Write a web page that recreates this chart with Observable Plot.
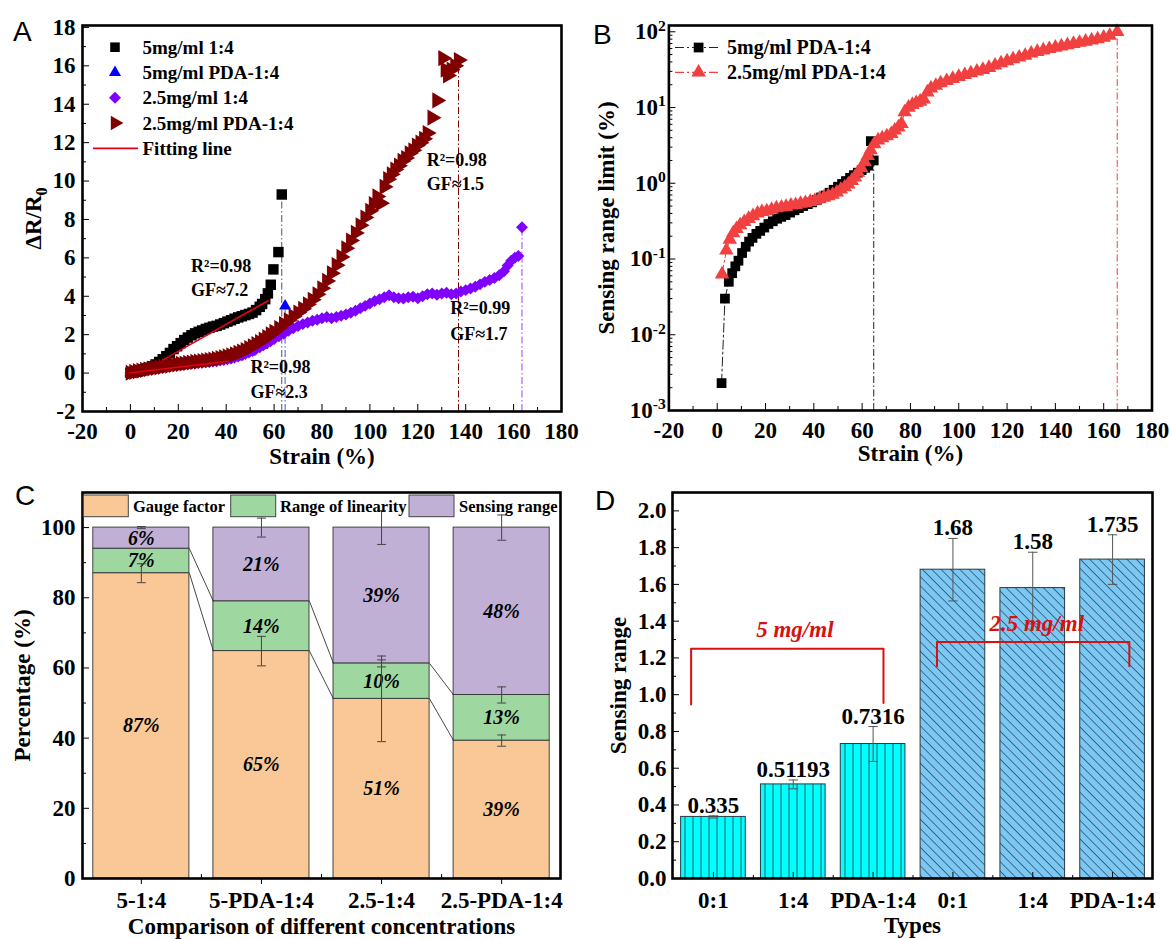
<!DOCTYPE html>
<html>
<head>
<meta charset="utf-8">
<script src="https://cdn.jsdelivr.net/npm/d3@7"></script>
<script src="https://cdn.jsdelivr.net/npm/@observablehq/plot@0.6"></script>
<style>
  html, body { margin: 0; padding: 0; background: #fff; }
  #root { position: relative; width: 1170px; height: 939px; overflow: hidden; background: #fff; }
  .panel { position: absolute; }
  .panel svg { display: block; max-width: none; }
  .letter { position: absolute; font-family: "Liberation Sans", Arial, sans-serif; font-size: 28px; line-height: 1; color: #000; }
</style>
</head>
<body>
<svg width="0" height="0" style="position:absolute">
  <defs>
    <pattern id="hatchVertical" patternUnits="userSpaceOnUse" width="8" height="10">
      <line x1="4" y1="0" x2="4" y2="10" stroke="#1d4f5a" stroke-width="0.9"/>
    </pattern>
    <pattern id="hatchDiagonal" patternUnits="userSpaceOnUse" width="6.6" height="10" patternTransform="rotate(-45)">
      <line x1="3.3" y1="-1" x2="3.3" y2="11" stroke="#2e4f66" stroke-width="0.8"/>
    </pattern>
  </defs>
</svg>
<div id="root">
  <div class="panel" id="panelA" style="left:0px;top:0px;width:585px;height:470px"></div>
  <div class="panel" id="panelB" style="left:585px;top:0px;width:585px;height:470px"></div>
  <div class="panel" id="panelC" style="left:0px;top:470px;width:585px;height:469px"></div>
  <div class="panel" id="panelD" style="left:585px;top:470px;width:585px;height:469px"></div>
  <div class="letter" style="left:13px;top:18px">A</div>
  <div class="letter" style="left:593px;top:21px">B</div>
  <div class="letter" style="left:15px;top:482px">C</div>
  <div class="letter" style="left:595px;top:487px">D</div>
</div>
<script>
// ======================= DATA =======================
// ---- Panel A: ΔR/R0 vs strain ----
const seriesNamesA = ["5mg/ml 1:4", "5mg/ml PDA-1:4", "2.5mg/ml 1:4", "2.5mg/ml PDA-1:4"];
const a5_14 = [[0,0.02],[1.5,0.05],[3,0.09],[4.5,0.14],[6,0.2],[7.5,0.27],[9,0.35],[10.5,0.45],[12,0.58],[13.5,0.72],[15,0.88],[16.5,1.05],[18,1.25],[19.5,1.4],[21,1.56],[22.5,1.72],[24,1.85],[25.5,1.97],[27,2.07],[28.5,2.15],[30,2.22],[31.5,2.3],[33,2.36],[34.5,2.42],[36,2.46],[37.5,2.53],[39,2.6],[40.5,2.68],[42,2.75],[43.5,2.83],[45,2.9],[46.5,2.96],[48,3.02],[49.5,3.08],[51,3.15],[52.5,3.28],[54,3.45],[55,3.6],[56.3,3.85],[57.4,4.15],[58.6,4.6],[59.7,5.4],[61.8,6.3],[63.2,9.3]];
const a5_PDA = [[0,0.02],[5,0.12],[10,0.22],[15,0.3],[20,0.38],[25,0.45],[30,0.52],[35,0.6],[40,0.7],[45,0.85],[50,1.1],[55,1.45],[60,1.85],[63,2.2],[64.6,3.5]];
const a25_14 = [[0,0],[1.5,0.04],[3,0.08],[4.5,0.12],[6,0.15],[7.5,0.18],[9,0.2],[10.5,0.24],[12,0.27],[13.5,0.3],[15,0.33],[16.5,0.36],[18,0.38],[19.5,0.41],[21,0.43],[22.5,0.46],[24,0.48],[25.5,0.5],[27,0.52],[28.5,0.54],[30,0.55],[31.5,0.57],[33,0.58],[34.5,0.6],[36,0.62],[37.5,0.65],[39,0.68],[40.5,0.72],[42,0.76],[43.5,0.81],[45,0.87],[46.5,0.93],[48,1.0],[49.5,1.07],[51,1.15],[52.5,1.25],[54,1.35],[55.5,1.45],[57,1.55],[58.5,1.66],[60,1.78],[62,1.92],[64,2.05],[66,2.2],[68,2.33],[70,2.45],[72,2.55],[74,2.63],[76,2.72],[78,2.78],[80,2.86],[82,2.92],[84,2.85],[86,2.92],[88,2.98],[90,3.05],[92,3.14],[94,3.25],[96,3.38],[98,3.5],[100,3.62],[102,3.75],[104,3.85],[106,3.95],[108,4.05],[110,3.95],[112,3.9],[114,3.88],[116,3.95],[118,3.98],[120,3.9],[122,4.0],[124,4.1],[126,4.15],[128,4.08],[130,4.15],[132,4.18],[134,4.1],[136,4.15],[138,4.25],[140,4.32],[142,4.4],[144,4.5],[146,4.62],[148,4.75],[150,4.85],[152,4.95],[154,5.1],[156,5.3],[157.5,5.6],[159,5.85],[160.5,6.0],[162,6.1],[163.5,7.6]];
const a25_PDA = [[0,0.02],[1.5,0.06],[3,0.1],[4.5,0.13],[6,0.17],[7.5,0.2],[9,0.24],[10.5,0.27],[12,0.3],[13.5,0.33],[15,0.36],[16.5,0.39],[18,0.42],[19.5,0.45],[21,0.48],[22.5,0.5],[24,0.53],[25.5,0.55],[27,0.58],[28.5,0.6],[30,0.63],[31.5,0.65],[33,0.68],[34.5,0.71],[36,0.74],[37.5,0.78],[39,0.82],[40.5,0.87],[42,0.92],[43.5,0.98],[45,1.05],[46.5,1.12],[48,1.2],[49.5,1.3],[51,1.4],[52.5,1.51],[54,1.62],[55.5,1.75],[57,1.88],[58.5,2.02],[60,2.15],[62,2.35],[64,2.55],[66,2.75],[68,2.95],[70,3.15],[72,3.35],[74,3.58],[76,3.82],[78,4.1],[80,4.42],[82,4.8],[84,5.2],[86,5.62],[88,6.05],[90,6.5],[92,6.9],[94,7.3],[96,7.7],[98,8.1],[100,8.45],[101.5,8.8],[103,9.2],[104.5,8.85],[106,9.7],[107.5,10.1],[109,10.35],[110.5,10.6],[112,10.8],[113.5,11.05],[115,11.2],[116.5,11.45],[118,11.6],[119.5,11.85],[121,12.0],[122.5,12.2],[124,12.5],[126,13.3],[128,14.2],[130.5,16.4],[131.5,15.8],[132.5,15.5],[134,15.8],[135.5,16.0],[137,16.3]];
const fitLinesA = [[[13.6,0.69],[57.5,3.77]], [[0,0.02],[41,0.62]]];
const annotationsA = [
  {x: 25.3, y: 5.58, t: "R²=0.98"}, {x: 25.3, y: 4.29, t: "GF≈7.2"},
  {x: 50.1, y: 0.31, t: "R²=0.98"}, {x: 50.1, y: -1.02, t: "GF≈2.3"},
  {x: 123.7, y: 11.1, t: "R²=0.98"}, {x: 123.7, y: 9.81, t: "GF≈1.5"},
  {x: 133.5, y: 3.39, t: "R²=0.99"}, {x: 133.5, y: 2.04, t: "GF≈1.7"}
];
const xTicksA = [-20, 0, 20, 40, 60, 80, 100, 120, 140, 160, 180];
const yTicksA = [-2, 0, 2, 4, 6, 8, 10, 12, 14, 16, 18];

// ---- Panel B: sensing range limit (log) ----
const seriesNamesB = ["5mg/ml PDA-1:4", "2.5mg/ml PDA-1:4"];
const b5_PDA = [[1.8,0.0023],[3.2,0.03],[4.8,0.05],[6.2,0.065],[7.5,0.08],[8.8,0.095],[10.3,0.12],[11.8,0.145],[13.2,0.17],[14.6,0.19],[16.2,0.215],[17.8,0.235],[19.5,0.26],[21.2,0.29],[23,0.315],[24.8,0.34],[26.5,0.36],[28.3,0.38],[30.2,0.41],[32,0.44],[33.8,0.47],[35.6,0.5],[37.5,0.53],[39.3,0.56],[41.2,0.6],[43,0.65],[44.8,0.69],[46.5,0.75],[48.2,0.82],[50,0.9],[51.7,0.98],[53.3,1.07],[55,1.18],[56.6,1.28],[58.2,1.38],[59.8,1.49],[61.3,1.6],[62.6,1.71],[63.6,3.6],[64.8,2.0]];
const b25_PDA = [[2.0,0.063],[3.8,0.13],[5.2,0.18],[6.6,0.22],[8,0.25],[9.5,0.28],[11.2,0.31],[13,0.34],[14.8,0.37],[16.7,0.4],[18.5,0.42],[20.5,0.43],[22.5,0.45],[24.5,0.47],[26.6,0.48],[28.5,0.49],[30.5,0.51],[32.5,0.52],[34.5,0.54],[36.5,0.55],[38.5,0.57],[40.4,0.59],[42.3,0.62],[44.2,0.65],[46,0.68],[47.8,0.71],[49.5,0.76],[51.2,0.83],[52.8,0.89],[54.3,0.97],[55.7,1.08],[57,1.2],[58.3,1.38],[59.6,1.6],[61.1,1.9],[62.3,2.3],[63.5,2.75],[65,3.3],[66.6,3.7],[68.3,3.95],[70.2,4.2],[72.1,4.5],[73.5,5.0],[75,5.5],[76.3,6.1],[77.6,8.7],[79.2,10.0],[80.8,10.9],[82.4,11.5],[84,12.0],[85.5,12.8],[87,15.9],[88.5,18],[90.5,19.5],[92.5,21],[95,22.5],[97.5,24],[100,25.5],[102.5,27],[105,28.5],[107.5,30],[110,31.5],[112.5,33.5],[115,36],[117.5,38.5],[120,41],[122.5,43.5],[125,46],[127.5,48.5],[130,52],[132.5,54.5],[135,57],[137.5,59.5],[140,62],[142.5,64.5],[145,67],[147.5,69.5],[150,72],[152.5,74.5],[155,77],[157.5,80],[160,84],[162.5,89],[165.6,100]];
const xTicksB = [-20, 0, 20, 40, 60, 80, 100, 120, 140, 160, 180];
const decadesB = [0.001, 0.01, 0.1, 1, 10, 100];

// ---- Panel C: stacked percentages ----
const categoriesC = ["5-1:4", "5-PDA-1:4", "2.5-1:4", "2.5-PDA-1:4"];
const componentsC = ["Gauge factor", "Range of linearity", "Sensing range"];
const gaugeC = [87, 64.8, 51.2, 39.3];
const linearityC = [7, 14.2, 10.1, 13.0];
const sensingC = [6, 21.0, 38.7, 47.7];
const gaugeErrC = [2.7, 4.2, 12.2, 1.6];
const linearityErrC = [0, 0, 1.0, 2.3];
const sensingErrC = [0.3, 2.7, 4.8, 3.6];
const gaugeLabelsC = ["87%", "65%", "51%", "39%"];
const linearityLabelsC = ["7%", "14%", "10%", "13%"];
const sensingLabelsC = ["6%", "21%", "39%", "48%"];
const yTicksC = [0, 20, 40, 60, 80, 100];

// ---- Panel D: sensing range bars ----
const typesD = ["0:1", "1:4", "PDA-1:4", "0:1", "1:4", "PDA-1:4"];
const groupsD = ["5 mg/ml", "5 mg/ml", "5 mg/ml", "2.5 mg/ml", "2.5 mg/ml", "2.5 mg/ml"];
const valuesD = [0.335, 0.51193, 0.7316, 1.68, 1.58, 1.735];
const errorsD = [0.006, 0.024, 0.095, 0.17, 0.195, 0.135];
const bracketsD = [
  {label: "5 mg/ml", x1: -0.28, x2: 2.13, top: 1.25, end1: 0.946, end2: 0.955, tx: 1.02, ty: 1.353},
  {label: "2.5 mg/ml", x1: 2.8, x2: 5.21, top: 1.286, end1: 1.155, end2: 1.155, tx: 4.05, ty: 1.384}
];
const yTicksD = [0, 0.2, 0.4, 0.6, 0.8, 1.0, 1.2, 1.4, 1.6, 1.8, 2.0];

// ======================= STYLES =======================
const serif = "'Liberation Serif', 'Times New Roman', serif";
const baseStyle = {fontFamily: serif, fontSize: "23px", fontWeight: "bold", overflow: "visible", background: "transparent"};
const dashDot = "7,2.5,1.5,2.5";
const symbolTriangleRight = {
  draw(ctx, size) {
    const s = Math.sqrt(size * 4 / Math.sqrt(3)), h = s * Math.sqrt(3) / 2;
    ctx.moveTo(2 * h / 3, 0); ctx.lineTo(-h / 3, -s / 2); ctx.lineTo(-h / 3, s / 2); ctx.closePath();
  }
};
const d3Symbols = {square: d3.symbolSquare, triangle: d3.symbolTriangle, diamond2: d3.symbolDiamond2};
const symbolOf = s => typeof s === "string" ? d3Symbols[s] : s;
const mid = arr => arr.slice(0, -1).map((v, i) => (v + arr[i + 1]) / 2);
const yTitle = (t, dx) => Plot.text([t], {frameAnchor: "left", dx, rotate: -90, textAnchor: "middle", lineAnchor: "middle"});
const xTitle = (t, dy) => Plot.text([t], {frameAnchor: "bottom", dy, textAnchor: "middle", lineAnchor: "middle"});

// ======================= PANEL A =======================
const seriesA = [
  {name: seriesNamesA[0], data: a5_14, symbol: "square", r: 5.9, color: "#000000", guide: "#555555"},
  {name: seriesNamesA[1], data: a5_PDA, symbol: "triangle", r: 4.5, color: "#0000ff", guide: "#3a52ff"},
  {name: seriesNamesA[2], data: a25_14, symbol: "diamond2", r: 5.4, color: "#8000ff", guide: "#9a40ff"},
  {name: seriesNamesA[3], data: a25_PDA, symbol: symbolTriangleRight, r: 6.0, color: "#800000", guide: "#800000"}
];
const yMinA = yTicksA[0];
const plotA = Plot.plot({
  width: 585, height: 470, marginLeft: 82, marginRight: 24, marginTop: 25, marginBottom: 59,
  style: baseStyle,
  x: {domain: [xTicksA[0], xTicksA[xTicksA.length - 1]], label: null},
  y: {domain: [yMinA, 18.1], label: null},
  marks: [
    ...seriesA.map(s => {
      const last = s.data[s.data.length - 1];
      return Plot.ruleX([last], {x: d => d[0], y1: yMinA, y2: d => d[1], stroke: s.guide, strokeWidth: 1, strokeDasharray: dashDot});
    }),
    ...seriesA.map(s => Plot.dot(s.data, {x: d => d[0], y: d => d[1], symbol: s.symbol, r: s.r, fill: s.color, stroke: "none"})),
    ...fitLinesA.map(seg => Plot.line(seg, {x: d => d[0], y: d => d[1], stroke: "#e3001b", strokeWidth: 1.6})),
    Plot.text(annotationsA, {x: "x", y: "y", text: "t", textAnchor: "start", fontSize: 18, lineAnchor: "middle"}),
    Plot.axisX({ticks: xTicksA, anchor: "bottom", tickSize: -7, tickPadding: 18.3, tickFormat: d => String(d), label: null}),
    Plot.axisX({ticks: mid(xTicksA), anchor: "bottom", tickSize: -4, tickFormat: () => "", label: null}),
    Plot.axisY({ticks: yTicksA, anchor: "left", tickSize: -7, tickPadding: 14, tickFormat: d => String(d), label: null}),
    Plot.axisY({ticks: mid(yTicksA), anchor: "left", tickSize: -4, tickFormat: () => "", label: null}),
    Plot.frame({stroke: "#000", strokeWidth: 2.6}),
    xTitle("Strain (%)", 45),
    yTitle("ΔR/R0", -49)
  ]
});
document.getElementById("panelA").append(plotA);

// ======================= PANEL B =======================
const seriesB = [
  {name: seriesNamesB[0], data: b5_PDA, symbol: "square", r: 5.5, color: "#000000", line: "#222222"},
  {name: seriesNamesB[1], data: b25_PDA, symbol: "triangle", r: 5.4, color: "#f04040", line: "#f04040"}
];
const yDomainB = [decadesB[0], 121];
const minorB = decadesB.flatMap(d => [2, 3, 4, 5, 6, 7, 8, 9].map(m => m * d)).filter(v => v < yDomainB[1]);
const plotB = Plot.plot({
  width: 585, height: 470, marginLeft: 83.4, marginRight: 18.5, marginTop: 25, marginBottom: 60,
  style: baseStyle,
  x: {domain: [xTicksB[0], xTicksB[xTicksB.length - 1]], label: null},
  y: {type: "log", domain: yDomainB, label: null},
  marks: [
    ...seriesB.map(s => {
      const last = s.data[s.data.length - 1];
      return Plot.ruleX([last], {x: d => d[0], y1: yDomainB[0], y2: d => d[1], stroke: s.line, strokeWidth: 1, strokeDasharray: dashDot});
    }),
    ...seriesB.map(s => Plot.line(s.data, {x: d => d[0], y: d => d[1], stroke: s.line, strokeWidth: 1, strokeDasharray: "9,3,2,3"})),
    ...seriesB.map(s => Plot.dot(s.data, {x: d => d[0], y: d => d[1], symbol: s.symbol, r: s.r, fill: s.color, stroke: "none"})),
    Plot.axisX({ticks: xTicksB, anchor: "bottom", tickSize: -7, tickPadding: 18.3, tickFormat: d => String(d), label: null}),
    Plot.axisX({ticks: mid(xTicksB), anchor: "bottom", tickSize: -4, tickFormat: () => "", label: null}),
    Plot.axisY({ticks: decadesB, anchor: "left", tickSize: -7, tickPadding: 10, tickFormat: d => "10^" + Math.round(Math.log10(d)), label: null}),
    Plot.axisY({ticks: minorB, anchor: "left", tickSize: -4, tickFormat: () => "", label: null}),
    Plot.frame({stroke: "#000", strokeWidth: 2.6}),
    xTitle("Strain (%)", 43),
    yTitle("Sensing range limit (%)", -62)
  ]
});
document.getElementById("panelB").append(plotB);

// ======================= PANEL C =======================
const colorsC = ["#F9C896", "#9ED8A0", "#C0B0D6"];
const valuesC = [gaugeC, linearityC, sensingC];
const errsC = [gaugeErrC, linearityErrC, sensingErrC];
const labelsC = [gaugeLabelsC, linearityLabelsC, sensingLabelsC];
const halfC = 0.4;
const segC = [];
categoriesC.forEach((c, i) => {
  let cum = 0;
  valuesC.forEach((vals, k) => {
    segC.push({i, k, comp: componentsC[k], y1: cum, y2: cum + vals[i], err: errsC[k][i], label: labelsC[k][i]});
    cum += vals[i];
  });
});
const connectorsC = [];
[0, 1].forEach(k => {
  for (let i = 0; i < categoriesC.length - 1; i++) {
    const a = segC.find(s => s.i === i && s.k === k), b = segC.find(s => s.i === i + 1 && s.k === k);
    connectorsC.push({x1: i + halfC, y1: a.y2, x2: i + 1 - halfC, y2: b.y2});
  }
});
const errRowsC = segC.filter(s => s.err > 0);
const capC = 0.037;
const xTicksC = categoriesC.map((c, i) => i);
const plotC = Plot.plot({
  width: 585, height: 469, marginLeft: 82, marginRight: 25, marginTop: 22, marginBottom: 61,
  style: baseStyle,
  x: {domain: [-0.49, categoriesC.length - 0.51], label: null},
  y: {domain: [0, 110], label: null},
  color: {domain: componentsC, range: colorsC},
  marks: [
    Plot.rect(segC, {x1: d => d.i - halfC, x2: d => d.i + halfC, y1: "y1", y2: "y2", fill: "comp", stroke: "#333", strokeWidth: 0.9}),
    Plot.link(connectorsC, {x1: "x1", y1: "y1", x2: "x2", y2: "y2", stroke: "#333", strokeWidth: 0.9}),
    Plot.text(segC, {x: "i", y: d => (d.y1 + d.y2) / 2, text: "label", fontStyle: "italic", fontSize: 20, lineAnchor: "middle"}),
    Plot.ruleX(errRowsC, {x: "i", y1: d => d.y2 - d.err, y2: d => d.y2 + d.err, stroke: "#444", strokeWidth: 1}),
    Plot.link(errRowsC, {x1: d => d.i - capC, x2: d => d.i + capC, y1: d => d.y2 + d.err, y2: d => d.y2 + d.err, stroke: "#444", strokeWidth: 1}),
    Plot.link(errRowsC, {x1: d => d.i - capC, x2: d => d.i + capC, y1: d => d.y2 - d.err, y2: d => d.y2 - d.err, stroke: "#444", strokeWidth: 1}),
    Plot.axisX({ticks: xTicksC, anchor: "bottom", tickSize: 6, tickPadding: 7, tickFormat: i => categoriesC[i], label: null}),
    Plot.axisX({ticks: mid(xTicksC), anchor: "bottom", tickSize: -4, tickFormat: () => "", label: null}),
    Plot.axisY({ticks: yTicksC, anchor: "left", tickSize: -7, tickPadding: 14, tickFormat: d => String(d), label: null}),
    Plot.axisY({ticks: mid(yTicksC), anchor: "left", tickSize: -4, tickFormat: () => "", label: null}),
    Plot.frame({stroke: "#000", strokeWidth: 2.6}),
    xTitle("Comparison of different concentrations", 48),
    yTitle("Percentage (%)", -60)
  ]
});
document.getElementById("panelC").append(plotC);

// ======================= PANEL D =======================
const fillsD = {"5 mg/ml": "#00FFFF", "2.5 mg/ml": "#7CC8F4"};
const hatchD = {"5 mg/ml": "url(#hatchVertical)", "2.5 mg/ml": "url(#hatchDiagonal)"};
const rowsD = valuesD.map((v, i) => ({i, v, e: errorsD[i], type: typesD[i], group: groupsD[i]}));
const halfD = 0.405, capD = 0.059;
const xTicksD = typesD.map((t, i) => i);
const bracketPts = bracketsD.flatMap(b => [
  {g: b.label, x: b.x1, y: b.end1}, {g: b.label, x: b.x1, y: b.top},
  {g: b.label, x: b.x2, y: b.top}, {g: b.label, x: b.x2, y: b.end2}
]);
const plotD = Plot.plot({
  width: 585, height: 469, marginLeft: 87, marginRight: 18, marginTop: 22, marginBottom: 61,
  style: baseStyle,
  x: {domain: [-0.513, typesD.length - 0.5], label: null},
  y: {domain: [0, 2.1], label: null},
  marks: [
    ...Object.keys(fillsD).map(g => Plot.rect(rowsD.filter(r => r.group === g), {x1: d => d.i - halfD, x2: d => d.i + halfD, y1: 0, y2: "v", fill: fillsD[g]})),
    ...Object.keys(hatchD).map(g => Plot.rect(rowsD.filter(r => r.group === g), {x1: d => d.i - halfD, x2: d => d.i + halfD, y1: 0, y2: "v", fill: hatchD[g], stroke: "#2b3a44", strokeWidth: 1})),
    Plot.ruleX(rowsD, {x: "i", y1: d => d.v - d.e, y2: d => d.v + d.e, stroke: "#555", strokeWidth: 1}),
    Plot.link(rowsD, {x1: d => d.i - capD, x2: d => d.i + capD, y1: d => d.v + d.e, y2: d => d.v + d.e, stroke: "#555", strokeWidth: 1}),
    Plot.link(rowsD, {x1: d => d.i - capD, x2: d => d.i + capD, y1: d => d.v - d.e, y2: d => d.v - d.e, stroke: "#555", strokeWidth: 1}),
    Plot.text(rowsD, {x: "i", y: d => d.v + d.e, text: d => String(d.v), lineAnchor: "bottom", dy: -3}),
    Plot.line(bracketPts, {x: "x", y: "y", z: "g", stroke: "#d81010", strokeWidth: 2}),
    Plot.text(bracketsD, {x: "tx", y: "ty", text: "label", fill: "#d81010", fontStyle: "italic", lineAnchor: "middle"}),
    Plot.axisX({ticks: xTicksD, anchor: "bottom", tickSize: -6, tickPadding: 18.7, tickFormat: i => typesD[i], label: null}),
    Plot.axisX({ticks: mid(xTicksD), anchor: "bottom", tickSize: -3, tickFormat: () => "", label: null}),
    Plot.axisY({ticks: yTicksD, anchor: "left", tickSize: -7, tickPadding: 13, tickFormat: d3.format(".1f"), label: null}),
    Plot.axisY({ticks: mid(yTicksD), anchor: "left", tickSize: -4, tickFormat: () => "", label: null}),
    Plot.frame({stroke: "#000", strokeWidth: 2.6}),
    xTitle("Types", 47),
    yTitle("Sensing range", -54)
  ]
});
document.getElementById("panelD").append(plotD);

// ======================= POST-PROCESS (super/subscripts) =======================
d3.select(plotB).selectAll("text").each(function () {
  const t = this.textContent, m = t.match(/^10\^(-?\d+)$/);
  if (m) {
    const sel = d3.select(this);
    sel.text(null);
    sel.append("tspan").text("10");
    sel.append("tspan").attr("dy", "-0.55em").attr("font-size", "0.68em").text(m[1]);
  }
});
d3.select(plotA).selectAll("text").each(function () {
  if (this.textContent === "ΔR/R0") {
    const sel = d3.select(this);
    sel.text(null);
    sel.append("tspan").text("ΔR/R");
    sel.append("tspan").attr("dy", "0.35em").attr("font-size", "0.7em").text("0");
  }
});

// ======================= LEGENDS =======================
function overlaySvg(panelId, w, h) {
  return d3.select(panelId).append("svg").attr("width", w).attr("height", h)
    .style("position", "absolute").style("left", "0px").style("top", "0px")
    .style("overflow", "visible").style("pointer-events", "none")
    .attr("font-family", serif).attr("font-weight", "bold");
}
// Legend A
const legA = overlaySvg("#panelA", 585, 470);
seriesA.forEach((s, k) => {
  const y = 47.2 + k * 25.3;
  legA.append("path").attr("transform", `translate(115,${y})`)
    .attr("d", d3.symbol(symbolOf(s.symbol), Math.pow(Math.min(s.r, 5.4), 2) * Math.PI)()).attr("fill", s.color);
  legA.append("text").attr("x", 142.5).attr("y", y).attr("dy", "0.34em").attr("font-size", 19).text(s.name);
});
{
  const y = 47.2 + 4 * 25.3;
  legA.append("line").attr("x1", 93).attr("x2", 138).attr("y1", y).attr("y2", y).attr("stroke", "#e3001b").attr("stroke-width", 1.6);
  legA.append("text").attr("x", 142.5).attr("y", y).attr("dy", "0.34em").attr("font-size", 19).text("Fitting line");
}
// Legend B
const legB = overlaySvg("#panelB", 585, 470);
seriesB.forEach((s, k) => {
  const y = 47.5 + k * 24.8;
  legB.append("line").attr("x1", 90).attr("x2", 133).attr("y1", y).attr("y2", y)
    .attr("stroke", s.line).attr("stroke-width", 1.2).attr("stroke-dasharray", "9,3,2,3");
  legB.append("path").attr("transform", `translate(113.6,${y})`)
    .attr("d", d3.symbol(symbolOf(s.symbol), s.r * s.r * Math.PI)()).attr("fill", s.color);
  legB.append("text").attr("x", 142).attr("y", y).attr("dy", "0.34em").attr("font-size", 20).text(s.name);
});
// Legend C
const legC = overlaySvg("#panelC", 585, 469);
const legCBoxX = [83.3, 230.7, 409], legCTextX = [133, 280, 459];
componentsC.forEach((c, k) => {
  legC.append("rect").attr("x", legCBoxX[k]).attr("y", 25).attr("width", 45).attr("height", 21.7)
    .attr("fill", colorsC[k]).attr("stroke", "#444").attr("stroke-width", 1);
  legC.append("text").attr("x", legCTextX[k]).attr("y", 36).attr("dy", "0.34em").attr("font-size", 16.5).text(c);
});
</script>
</body>
</html>
